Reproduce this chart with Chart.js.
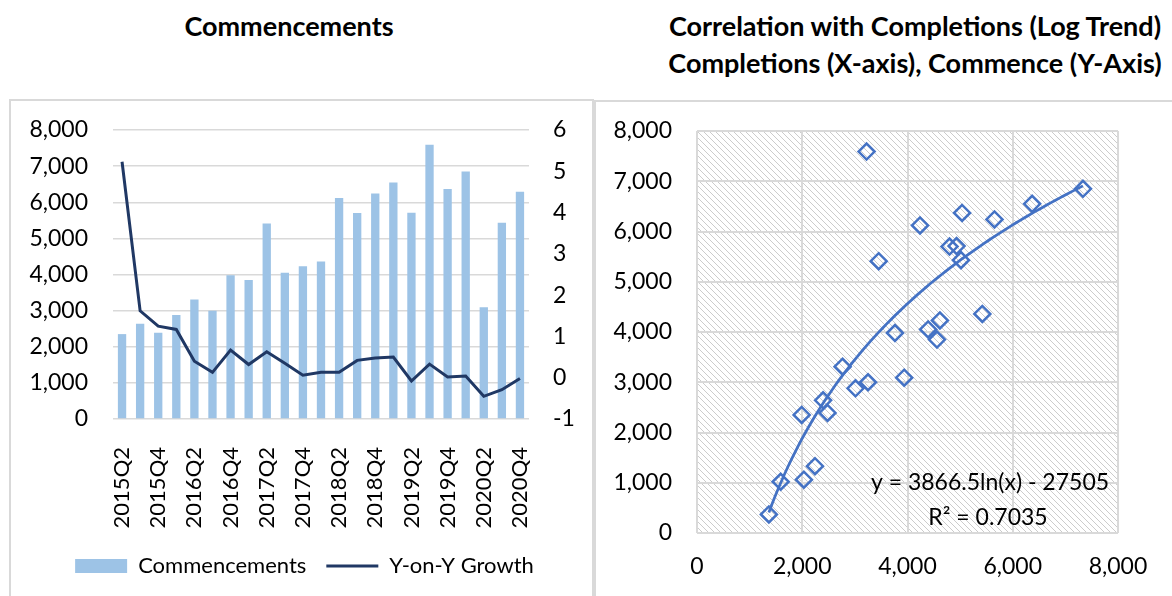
<!DOCTYPE html>
<html>
<head>
<meta charset="utf-8">
<script src="https://cdn.jsdelivr.net/npm/chart.js@4.4.0/dist/chart.umd.min.js"></script>
<style>
  body { margin: 0; width: 1172px; height: 596px; background: #fff; font-family: Lato, sans-serif; overflow: hidden; position: relative; }
  .title { position: absolute; font-weight: bold; font-size: 27px; color: #000; text-align: center; line-height: 37px; white-space: nowrap; }
  .panel { position: absolute; border: 2px solid #d9d9d9; box-sizing: border-box; }
  canvas { position: absolute; }
</style>
</head>
<body>
<div class="title" style="left:10px; width:558px; top:7px;">Commencements</div>
<div class="title" style="left:595px; width:640px; top:7px;">Correlation with Completions (Log Trend)<br>Completions (X-axis), Commence (Y-Axis)</div>

<div class="panel" style="left:9px; top:99px; width:585px; height:520px;"></div>
<div class="panel" style="left:594px; top:100px; width:600px; height:520px;"></div>

<canvas id="barChart" width="581" height="495" style="left:11px; top:101px;"></canvas>
<canvas id="scatterChart" width="576" height="494" style="left:596px; top:102px;"></canvas>

<script>
// Dados do gráfico de barras (trimestres)
const quarters = ['2015Q2', '2015Q3', '2015Q4', '2016Q1', '2016Q2', '2016Q3', '2016Q4', '2017Q1',
  '2017Q2', '2017Q3', '2017Q4', '2018Q1', '2018Q2', '2018Q3', '2018Q4', '2019Q1', '2019Q2',
  '2019Q3', '2019Q4', '2020Q1', '2020Q2', '2020Q3', '2020Q4'];
const commencements = [2350, 2640, 2390, 2880, 3310, 3000, 3980, 3850, 5410, 4050, 4230, 4360,
  6120, 5700, 6240, 6550, 5710, 7590, 6370, 6850, 3090, 5430, 6290];
const yoyGrowth = [5.23, 1.62, 1.25, 1.17, 0.40, 0.13, 0.67, 0.32, 0.63, 0.35, 0.06, 0.13,
  0.13, 0.42, 0.48, 0.50, -0.08, 0.33, 0.02, 0.04, -0.45, -0.29, -0.02];

// Dados do gráfico de dispersão
const completionsX = [1366, 1590, 2031, 2242, 1989, 2396, 2480, 2767, 3012, 3250, 3937, 3762, 4392,
  4560, 4616, 5422, 3453, 5016, 4798, 4932, 4238, 5653, 5037, 6368, 7334, 3222];
const commenceY = [370, 1020, 1060, 1330, 2350, 2640, 2390, 3310, 2880, 3000, 3090, 3980, 4050,
  3850, 4230, 4360, 5410, 5430, 5700, 5710, 6120, 6240, 6370, 6550, 6850, 7590];

// Linha de tendência logarítmica: y = a*ln(x) + b
const trendA = 3866.5;
const trendB = -27505;
const trendLabel = 'y = 3866.5ln(x) - 27505';
const r2Label = 'R² = 0.7035';

const font22 = { family: 'Lato', size: 22 };
const font23 = { family: 'Lato', size: 23 };
const textColor = '#000';
const gridColor = '#d9d9d9';
const fmt = v => Number(v).toLocaleString('en-US');

// Fixa a largura do eixo e remove o padding extra no topo/base
const fixWidth = w => s => { s.width = w; s.paddingTop = 12; s.paddingBottom = 12; };

// Gráfico combinado barras + linha
new Chart(document.getElementById('barChart'), {
  type: 'bar',
  data: {
    labels: quarters,
    datasets: [{
      type: 'bar',
      label: 'Commencements',
      data: commencements,
      backgroundColor: '#9dc3e6',
      borderWidth: 0,
      categoryPercentage: 1,
      barPercentage: 0.46,
      yAxisID: 'y',
      order: 2
    }, {
      type: 'line',
      label: 'Y-on-Y Growth',
      data: yoyGrowth,
      borderColor: '#203864',
      backgroundColor: '#203864',
      borderWidth: 3,
      pointRadius: 0,
      tension: 0,
      yAxisID: 'y1',
      order: 1
    }]
  },
  options: {
    responsive: false,
    animation: false,
    layout: { padding: { top: 29, bottom: 9, left: 6 } },
    plugins: {
      tooltip: { enabled: false },
      legend: {
        position: 'bottom',
        labels: {
          font: font22,
          color: textColor,
          usePointStyle: true,
          pointStyleWidth: 52,
          boxHeight: 14,
          padding: 20,
          generateLabels: chart => {
            const items = Chart.defaults.plugins.legend.labels.generateLabels(chart);
            items.forEach(it => { it.pointStyle = it.datasetIndex === 0 ? 'rect' : 'line'; });
            return items.sort((a, b) => a.datasetIndex - b.datasetIndex);
          }
        }
      }
    },
    scales: {
      x: {
        grid: { display: false },
        border: { display: false },
        ticks: {
          autoSkip: false, minRotation: 90, maxRotation: 90, padding: 20,
          font: font22, color: textColor,
          callback: (v, i) => (i % 2 === 0 ? quarters[i] : '')
        },
        afterFit: s => { s.height = 116; }
      },
      y: {
        position: 'left', min: 0, max: 8000,
        ticks: { stepSize: 1000, padding: 25, font: font23, color: textColor, callback: fmt },
        grid: { color: gridColor, lineWidth: 1.5, drawTicks: false },
        border: { display: false },
        afterFit: fixWidth(96)
      },
      y1: {
        position: 'right', min: -1, max: 6,
        ticks: { stepSize: 1, padding: 24, font: font23, color: textColor },
        grid: { display: false, drawTicks: false },
        border: { display: false },
        afterFit: fixWidth(63)
      }
    }
  }
});

// Padrão hachurado para o fundo da área do gráfico
function makeHatch() {
  const c = document.createElement('canvas');
  c.width = 6; c.height = 6;
  const g = c.getContext('2d');
  g.strokeStyle = '#cccccc';
  g.lineWidth = 1;
  g.beginPath();
  g.moveTo(-1, -1); g.lineTo(7, 7);
  g.moveTo(-1, 5); g.lineTo(1, 7);
  g.moveTo(5, -1); g.lineTo(7, 1);
  g.stroke();
  return g.createPattern(c, 'repeat');
}

const hatchPlugin = {
  id: 'hatch',
  beforeDraw(chart) {
    const { ctx, chartArea: a } = chart;
    ctx.save();
    ctx.fillStyle = makeHatch();
    ctx.fillRect(a.left, a.top, a.right - a.left, a.bottom - a.top);
    ctx.restore();
  }
};

const equationPlugin = {
  id: 'equation',
  afterDraw(chart) {
    const { ctx, chartArea: a } = chart;
    ctx.save();
    ctx.font = '23px Lato';
    ctx.fillStyle = textColor;
    ctx.textAlign = 'center';
    ctx.textBaseline = 'middle';
    ctx.fillText(trendLabel, a.left + 293, a.top + 352);
    ctx.fillText(r2Label, a.left + 291, a.top + 387);
    ctx.restore();
  }
};

// Pontos da curva de tendência a partir da equação exibida
const xMin = Math.min(...completionsX);
const xMax = Math.max(...completionsX);
const trendPoints = [];
for (let i = 0; i <= 80; i++) {
  const x = xMin + (xMax - xMin) * i / 80;
  trendPoints.push({ x: x, y: trendA * Math.log(x) + trendB });
}

new Chart(document.getElementById('scatterChart'), {
  type: 'scatter',
  data: {
    datasets: [{
      label: 'Commence',
      data: completionsX.map((x, i) => ({ x: x, y: commenceY[i] })),
      pointStyle: 'rectRot',
      pointRadius: 8,
      borderWidth: 2.5,
      borderColor: '#4472c4',
      backgroundColor: 'rgba(0,0,0,0)',
      order: 1
    }, {
      label: 'Trend',
      data: trendPoints,
      showLine: true,
      pointRadius: 0,
      borderColor: '#4472c4',
      borderWidth: 2.75,
      order: 2
    }]
  },
  options: {
    responsive: false,
    animation: false,
    layout: { padding: { top: 29, right: 54, bottom: 0 } },
    plugins: { legend: { display: false }, tooltip: { enabled: false } },
    scales: {
      x: {
        type: 'linear', min: 0, max: 8000,
        ticks: { stepSize: 2000, padding: 20, font: font23, color: textColor, callback: fmt },
        grid: { color: gridColor, lineWidth: 2, drawTicks: false },
        border: { display: false },
        afterFit: s => { s.height = 63; }
      },
      y: {
        min: 0, max: 8000,
        ticks: { stepSize: 1000, padding: 25, font: font23, color: textColor, callback: fmt },
        grid: { color: gridColor, lineWidth: 2, drawTicks: false },
        border: { display: false },
        afterFit: fixWidth(101)
      }
    }
  },
  plugins: [hatchPlugin, equationPlugin]
});
</script>
</body>
</html>
